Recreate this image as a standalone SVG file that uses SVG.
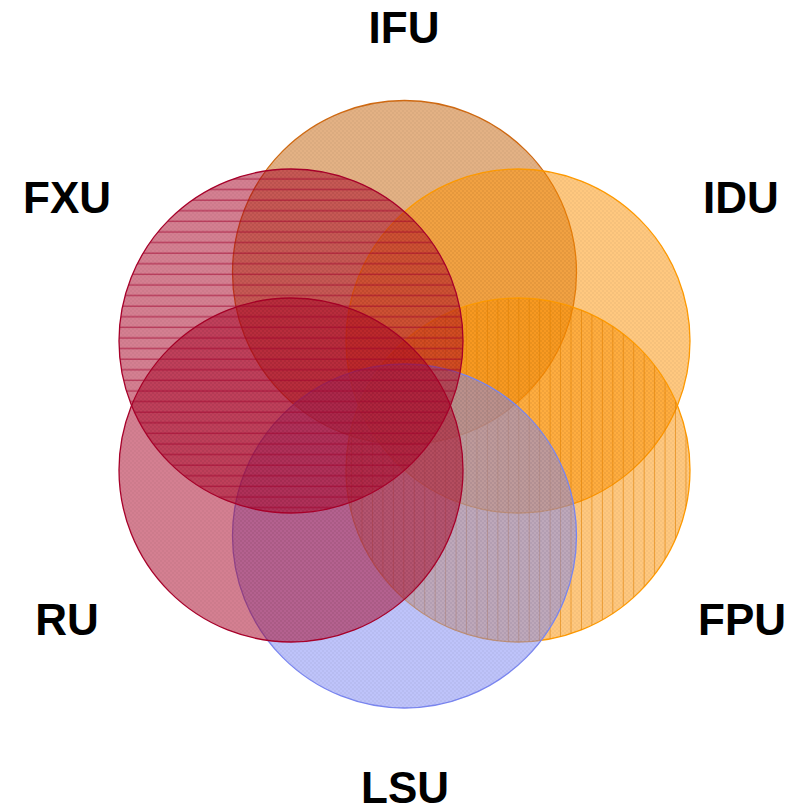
<svg xmlns="http://www.w3.org/2000/svg" width="801" height="807" viewBox="0 0 801 807">
  <style>
    .lbl { font-family: "Liberation Sans", Arial, sans-serif; font-weight: bold; font-size: 44px; fill: #000; text-anchor: middle; }
    .set { stroke-width: 1.3; }
    .tex { stroke: none; }
  </style>
  <defs>
    <!-- fine checker texture laid over each translucent set -->
    <pattern id="checker" width="4" height="4" patternUnits="userSpaceOnUse">
      <rect x="0" y="0" width="2" height="2" fill="#000" fill-opacity="0.035"/>
      <rect x="2" y="2" width="2" height="2" fill="#000" fill-opacity="0.035"/>
    </pattern>
    <!-- horizontal hatch for FXU -->
    <pattern id="hlines" width="12" height="10.6" patternUnits="userSpaceOnUse" y="4.3">
      <rect x="0" y="4.5" width="12" height="1" fill="#a0002a" fill-opacity="0.75"/>
    </pattern>
    <!-- vertical hatch for FPU -->
    <pattern id="vlines" width="10.45" height="12" patternUnits="userSpaceOnUse" x="1.5">
      <rect x="4.7" y="0" width="1" height="12" fill="#e07f00" fill-opacity="0.6"/>
    </pattern>
  </defs>

  <rect width="801" height="807" fill="#ffffff"/>

  <g id="IFU">
    <circle class="set" cx="404.5" cy="272.5" r="172" fill="#c8640a" fill-opacity="0.5" stroke="#d06a12"/>
    <circle class="tex" cx="404.5" cy="272.5" r="172" fill="url(#checker)"/>
  </g>
  <g id="IDU">
    <circle class="set" cx="518" cy="341" r="172" fill="#ff9100" fill-opacity="0.5" stroke="#ff9a00"/>
    <circle class="tex" cx="518" cy="341" r="172" fill="url(#checker)"/>
  </g>
  <g id="FPU">
    <circle class="set" cx="518" cy="470" r="172" fill="#ff9100" fill-opacity="0.5" stroke="#ff9a00"/>
    <circle class="tex" cx="518" cy="470" r="172" fill="url(#checker)"/>
    <circle class="tex" cx="518" cy="470" r="172" fill="url(#vlines)"/>
  </g>
  <g id="LSU">
    <circle class="set" cx="404.5" cy="536" r="172" fill="#7d87f5" fill-opacity="0.5" stroke="#7a86f0"/>
    <circle class="tex" cx="404.5" cy="536" r="172" fill="url(#checker)"/>
  </g>
  <g id="RU">
    <circle class="set" cx="291" cy="470" r="172" fill="#aa0023" fill-opacity="0.5" stroke="#a8002a"/>
    <circle class="tex" cx="291" cy="470" r="172" fill="url(#checker)"/>
  </g>
  <g id="FXU">
    <circle class="set" cx="291" cy="341" r="172" fill="#aa0023" fill-opacity="0.5" stroke="#a8002a"/>
    <circle class="tex" cx="291" cy="341" r="172" fill="url(#checker)"/>
    <circle class="tex" cx="291" cy="341" r="172" fill="url(#hlines)"/>
  </g>

  <g id="labels">
    <text class="lbl" x="404" y="43">IFU</text>
    <text class="lbl" x="67" y="213">FXU</text>
    <text class="lbl" x="741" y="213">IDU</text>
    <text class="lbl" x="67" y="635">RU</text>
    <text class="lbl" x="742" y="635">FPU</text>
    <text class="lbl" x="405" y="803">LSU</text>
  </g>
</svg>
